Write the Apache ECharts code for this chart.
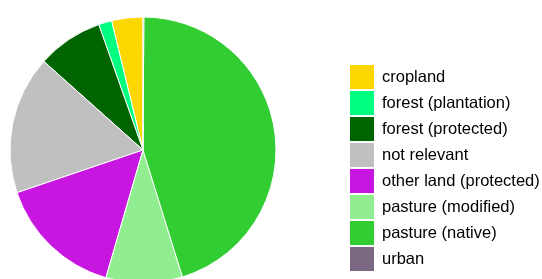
<!DOCTYPE html>
<html>
<head>
<meta charset="utf-8">
<script src="https://cdn.jsdelivr.net/npm/echarts@6/dist/echarts.min.js"></script>
<style>
  html, body { margin: 0; padding: 0; background: #fff; }
  #pie { width: 542px; height: 279px; }
</style>
</head>
<body>
<div id="pie"></div>
<script>
// 土地利用类别
const categories = [
  'cropland',
  'forest (plantation)',
  'forest (protected)',
  'not relevant',
  'other land (protected)',
  'pasture (modified)',
  'pasture (native)',
  'urban'
]
// 各类占比 (%)
const shares = [3.8, 1.6, 8.0, 16.8, 15.3, 9.3, 45.1, 0.1]
const colors = ['#ffd700', '#00ff7f', '#006400', '#c0c0c0', '#c616e0', '#90ee90', '#32cd32', '#7b6883']

const myChart = echarts.init(document.getElementById('pie'))
const pieData = []
for (let i = 0; i < categories.length; i++) {
  pieData.push({ name: categories[i], value: shares[i] })
}
myChart.setOption({
  animation: false,
  color: colors,
  legend: {
    orient: 'vertical',
    left: 350,
    top: 65,
    padding: 0,
    height: 214,
    icon: 'rect',
    itemWidth: 24,
    itemHeight: 24,
    itemGap: 2,
    selectedMode: false,
    itemStyle: { borderWidth: 0 },
    textStyle: {
      fontFamily: 'Liberation Sans, Arial, sans-serif',
      fontSize: 16.5,
      color: '#000',
      padding: [0, 0, 0, 3]
    },
    data: categories
  },
  series: [
    {
      type: 'pie',
      center: [143, 150],
      radius: 133,
      startAngle: 90,
      clockwise: false,
      avoidLabelOverlap: false,
      label: { show: false },
      labelLine: { show: false },
      itemStyle: { borderColor: '#fff', borderWidth: 1 },
      emphasis: { disabled: true },
      data: pieData
    }
  ]
})
</script>
</body>
</html>
